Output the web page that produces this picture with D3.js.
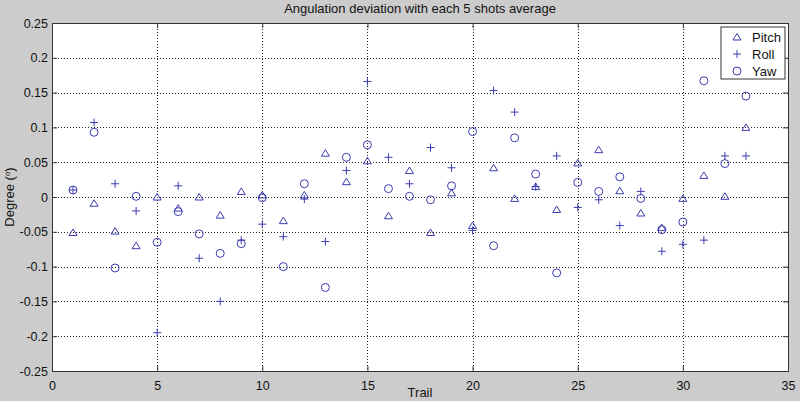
<!DOCTYPE html>
<html>
<head>
<meta charset="utf-8">
<script src="https://cdn.jsdelivr.net/npm/d3@7"></script>
<style>
  body { margin: 0; background: #cccccc; }
  svg { display: block; font-family: "Liberation Sans", Arial, sans-serif; }
</style>
</head>
<body>
<svg id="chart"></svg>
<script>
var trails = d3.range(1, 34);
var pitch = [-0.051, -0.009, -0.049, -0.070, 0.000, -0.016, 0.000, -0.026, 0.008, 0.003,
  -0.034, 0.003, 0.063, 0.022, 0.052, -0.027, 0.038, -0.051, 0.006, -0.041,
  0.042, -0.002, 0.015, -0.018, 0.049, 0.068, 0.009, -0.023, -0.044, -0.002,
  0.031, 0.001, 0.100];
var roll = [0.010, 0.107, 0.019, -0.020, -0.195, 0.016, -0.088, -0.150, -0.062, -0.039,
  -0.057, -0.003, -0.064, 0.038, 0.166, 0.057, 0.019, 0.071, 0.042, -0.048,
  0.153, 0.122, 0.015, 0.059, -0.015, -0.004, -0.041, 0.008, -0.078, -0.068,
  -0.062, 0.059, 0.059];
var yaw = [0.010, 0.093, -0.102, 0.001, -0.065, -0.021, -0.053, -0.081, -0.067, -0.001,
  -0.100, 0.019, -0.130, 0.057, 0.075, 0.012, 0.001, -0.004, 0.016, 0.094,
  -0.070, 0.085, 0.033, -0.109, 0.021, 0.008, 0.029, -0.002, -0.047, -0.036,
  0.167, 0.048, 0.145];
var xTicks = [0, 5, 10, 15, 20, 25, 30, 35];
var yTicks = [-0.25, -0.2, -0.15, -0.1, -0.05, 0, 0.05, 0.1, 0.15, 0.2, 0.25];

var width = 800, height = 401;
var margin = {left: 52, right: 12, top: 23, bottom: 30};
var color = '#3c3cb0';

var svg = d3.select('#chart').attr('width', width).attr('height', height);

svg.append('rect').attr('width', width).attr('height', height).attr('fill', '#cccccc');

var x = d3.scaleLinear().domain([0, 35]).range([margin.left, width - margin.right]);
var y = d3.scaleLinear().domain([-0.25, 0.25]).range([height - margin.bottom, margin.top]);

svg.append('rect')
  .attr('x', x(0)).attr('y', y(0.25))
  .attr('width', x(35) - x(0)).attr('height', y(-0.25) - y(0.25))
  .attr('fill', 'white');

// grid
var grid = svg.append('g').attr('stroke', '#222').attr('stroke-width', 1).attr('stroke-dasharray', '1,2');
grid.selectAll('.gx').data(xTicks.slice(1, -1)).enter().append('line')
  .attr('x1', d => Math.round(x(d)) + 0.5).attr('x2', d => Math.round(x(d)) + 0.5)
  .attr('y1', y(0.25)).attr('y2', y(-0.25));
grid.selectAll('.gy').data(yTicks.slice(1, -1)).enter().append('line')
  .attr('y1', d => Math.round(y(d)) + 0.5).attr('y2', d => Math.round(y(d)) + 0.5)
  .attr('x1', x(0)).attr('x2', x(35));

// axes
var xAxis = svg.append('g').attr('transform', 'translate(0,' + y(-0.25) + ')')
  .call(d3.axisBottom(x).tickValues(xTicks).tickSize(-5).tickPadding(8).tickFormat(d3.format('d')));
var xAxisTop = svg.append('g').attr('transform', 'translate(0,' + y(0.25) + ')')
  .call(d3.axisTop(x).tickValues(xTicks).tickSize(-5).tickFormat(''));
var yAxis = svg.append('g').attr('transform', 'translate(' + x(0) + ',0)')
  .call(d3.axisLeft(y).tickValues(yTicks).tickSize(-5).tickPadding(4).tickFormat(d => d === 0 ? '0' : String(+d.toFixed(2))));
var yAxisRight = svg.append('g').attr('transform', 'translate(' + x(35) + ',0)')
  .call(d3.axisRight(y).tickValues(yTicks).tickSize(-5).tickFormat(''));

[xAxis, xAxisTop, yAxis, yAxisRight].forEach(function(a) {
  a.selectAll('path').attr('stroke', '#333');
  a.selectAll('line').attr('stroke', '#333');
  a.selectAll('text').attr('fill', '#111').style('font-size', '12.5px');
});
xAxis.selectAll('text').attr('dy', '0.9em');

// titles
svg.append('text').attr('x', (x(0) + x(35)) / 2).attr('y', 13)
  .attr('text-anchor', 'middle').style('font-size', '13px').attr('fill', '#111')
  .text('Angulation deviation with each 5 shots average');
svg.append('text').attr('x', (x(0) + x(35)) / 2).attr('y', 397)
  .attr('text-anchor', 'middle').style('font-size', '13px').attr('fill', '#111')
  .text('Trail');
var yl = svg.append('text').attr('transform', 'translate(14,' + y(0) + ') rotate(-90)')
  .attr('text-anchor', 'middle').style('font-size', '13px').attr('fill', '#111');
yl.append('tspan').text('Degree (');
yl.append('tspan').attr('baseline-shift', 'super').style('font-size', '8px').text('o');
yl.append('tspan').text(')');

// markers
var tri = 'M0,-3.5L4,3L-4,3Z';
var plus = 'M-4,0H4M0,-4V4';
var plot = svg.append('g').attr('fill', 'none').attr('stroke', color).attr('stroke-width', 1);

plot.selectAll('.pitch').data(pitch).enter().append('path')
  .attr('d', tri)
  .attr('transform', (d, i) => 'translate(' + x(trails[i]) + ',' + y(d) + ')');

plot.selectAll('.roll').data(roll).enter().append('path')
  .attr('d', plus)
  .attr('transform', (d, i) => 'translate(' + x(trails[i]) + ',' + y(d) + ')');

plot.selectAll('.yaw').data(yaw).enter().append('circle')
  .attr('r', 4)
  .attr('cx', (d, i) => x(trails[i])).attr('cy', d => y(d));

// legend
var legend = svg.append('g').attr('transform', 'translate(721,27)');
legend.append('rect').attr('width', 64).attr('height', 52).attr('fill', 'white').attr('stroke', '#333');
var entries = ['Pitch', 'Roll', 'Yaw'];
entries.forEach(function(name, i) {
  var g = legend.append('g').attr('transform', 'translate(16,' + (10 + i * 17) + ')');
  if (i === 0) g.append('path').attr('d', tri).attr('fill', 'none').attr('stroke', color);
  if (i === 1) g.append('path').attr('d', plus).attr('stroke', color);
  if (i === 2) g.append('circle').attr('r', 4).attr('fill', 'none').attr('stroke', color);
  g.append('text').attr('x', 15).attr('dy', '0.35em').style('font-size', '13px').attr('fill', '#111').text(name);
});
</script>
</body>
</html>
